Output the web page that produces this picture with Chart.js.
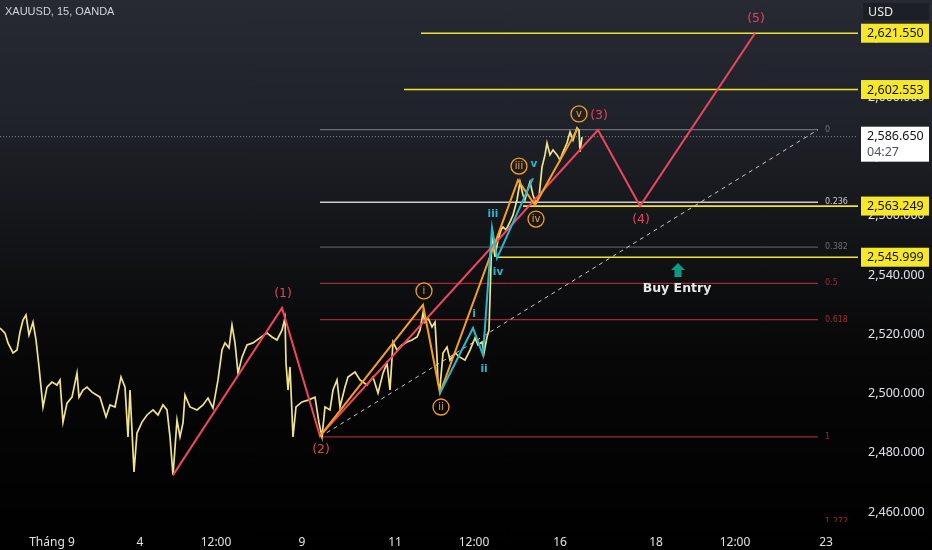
<!DOCTYPE html>
<html><head><meta charset="utf-8">
<script src="https://cdn.jsdelivr.net/npm/chart.js@4.4.1/dist/chart.umd.min.js"></script>
<style>
html,body{margin:0;padding:0;width:932px;height:550px;overflow:hidden;
background:linear-gradient(to bottom,#272a33 0%,#1f2229 22%,#121316 45%,#070707 65%,#000 100%);}
canvas{display:block;}
</style></head>
<body>
<canvas id="c" width="932" height="550"></canvas>
<script>
// ---- data ----
const xMin = 0, xMax = 858;
const xTickPos = [52,140,216,302,395,474,560,656,735,826];
const xTickLabels = ['Tháng 9','4','12:00','9','11','12:00','16','18','12:00','23'];
const yMin = 2456.7, yMax = 2632.75;

const priceX = [
0,5,8,13,17,20,23,26,29,33,
36,39,43,47,52,57,60,63,67,72,
77,79,83,87,92,100,106,110,115,121,
125,128,130,134,137,142,147,153,158,163,
167,170,173,177,180,183,185,190,197,203,
208,213,218,222,225,229,232,235,238,242,
247,253,260,267,272,277,282,285,286,288,
290,293,296,302,308,315,319,322,325,330,
333,337,340,345,348,355,360,367,373,378,
383,387,390,393,397,402,407,412,417,420,
423,425,428,432,435,437,438,440,443,447,
450,455,460,465,470,475,478,482,484,487,
489,491,492,494,495,498,501,503,506,510,
513,517,520,523,525,528,530,533,536,539,
542,545,547,550,553,557,560,563,567,570,
573,577,579,580,582];
const priceY = [
2522.1,2520.4,2517.1,2513.7,2514.7,2520.8,2524.8,2526.5,2519.8,2524.1,
2518.1,2509.0,2495.5,2502.2,2503.9,2502.9,2504.6,2490.4,2496.8,2498.8,
2506.9,2498.8,2501.2,2502.2,2500.5,2498.8,2492.1,2496.2,2495.5,2505.6,
2502.2,2485.4,2501.2,2473.6,2486.7,2490.4,2492.8,2494.5,2492.8,2496.2,
2494.5,2485.4,2472.5,2491.1,2485.4,2490.1,2499.5,2495.5,2494.5,2496.2,
2498.5,2495.1,2504.6,2514.7,2517.1,2515.4,2523.1,2517.1,2506.9,2512.3,
2516.4,2517.1,2518.8,2520.4,2519.1,2518.1,2521.4,2525.5,2510.3,2501.2,
2509.0,2485.4,2495.5,2497.2,2497.8,2498.8,2490.1,2485.4,2495.5,2494.5,
2501.2,2504.6,2495.5,2502.2,2505.6,2507.3,2504.6,2502.9,2505.6,2500.2,
2506.9,2510.3,2501.2,2517.4,2514.7,2516.4,2517.4,2518.1,2519.1,2521.4,
2527.2,2524.1,2525.5,2522.5,2524.1,2512.3,2503.6,2502.0,2513.7,2515.7,
2511.3,2513.7,2512.3,2511.3,2514.7,2518.8,2516.4,2517.4,2513.7,2519.1,
2521.4,2543.4,2555.9,2548.4,2546.1,2551.8,2555.2,2556.2,2555.2,2557.9,
2560.2,2565.3,2571.4,2567.0,2565.3,2569.3,2571.4,2567.0,2564.3,2566.3,
2576.4,2580.5,2584.5,2580.5,2582.2,2580.5,2578.8,2581.5,2584.5,2588.2,
2585.5,2589.6,2588.9,2581.5,2586.5];

const redX = [173,282,320,598,640,755];
const redY = [2472.5,2528.9,2485.7,2588.9,2563.25,2621.55];
const redLabels = ['','(1)','(2)','(3)','(4)','(5)'];

const orangeX = [320,423,440,518,535,578];
const orangeY = [2485.7,2529.9,2500.2,2572.0,2563.6,2589.6];
const orangeLabels = ['','i','ii','iii','iv','v'];

const cyanX = [440,473,483,492,497,533];
const cyanY = [2500.2,2522.1,2513.0,2555.9,2545.7,2572.7];
const cyanLabels = ['','i','ii','iii','iv','v'];

const labelSide = [0,-1,1,-1,1,-1]; // -1 above, 1 below

const yellowLevels = [2621.55,2602.553,2563.249,2545.999];
const yellowStart = [421,404,523,497];

const lastPrice = 2586.65;
const countdown = '04:27';

const fibTop = 2589.0, fibBottom = 2485.4;
const fibStart = 320, fibEnd = 818;
const fibRatios = [0,0.236,0.382,0.5,0.618,1];
const fibText = ['0','0.236','0.382','0.5','0.618','1'];
const fibColors = ['#6b6e78','#c9ccd3','#55585f','#9c2a3c','#a0283b','#9c2636'];
const fibExtraRatio = 1.272, fibExtraText = '1.272';

const buyX = 678, buyArrowY = 2541.7, buyTextY = 2535.3;

// ---- helpers ----
const pts = (xs, ys) => xs.map((v, i) => ({x: v, y: ys[i]}));
const fibVal = r => fibTop - r * (fibTop - fibBottom);
const fmt = v => v.toLocaleString('en-US', {minimumFractionDigits: 3, maximumFractionDigits: 3});

const datasets = [];
datasets.push({data: pts([xMin, xMax], [lastPrice, lastPrice]), borderColor: '#8a8d96', borderWidth: 1, borderDash: [1, 2], order: 20});
fibRatios.forEach((r, i) => {
  datasets.push({data: pts([fibStart, fibEnd], [fibVal(r), fibVal(r)]), borderColor: fibColors[i], borderWidth: r === 0.236 ? 1.6 : 1.2, order: 18});
});
datasets.push({data: pts([fibStart, fibEnd], [fibBottom, fibTop]), borderColor: '#c8c9cc', borderWidth: 1, borderDash: [4, 4], order: 16});
yellowLevels.forEach((v, i) => {
  datasets.push({data: pts([yellowStart[i], xMax], [v, v]), borderColor: '#f3e32b', borderWidth: 1.6, order: 15});
});
datasets.push({data: pts(priceX, priceY), borderColor: '#efe48c', borderWidth: 1.7, order: 10});
datasets.push({data: pts(redX, redY), borderColor: '#ee4560', borderWidth: 2, order: 3});
datasets.push({data: pts(orangeX, orangeY), borderColor: '#f5a020', borderWidth: 2, order: 2});
datasets.push({data: pts(cyanX, cyanY), borderColor: '#2bb7cb', borderWidth: 2, order: 1});

const overlay = {
  id: 'overlay',
  afterDatasetsDraw(chart) {
    const {ctx, chartArea: ca, scales: {x, y}} = chart;
    const px = v => x.getPixelForValue(v), py = v => y.getPixelForValue(v);
    ctx.save();
    ctx.beginPath(); ctx.rect(ca.left, ca.top, ca.width, ca.height); ctx.clip();
    // fib labels
    ctx.font = '8px "DejaVu Sans"'; ctx.textBaseline = 'middle'; ctx.textAlign = 'left';
    fibRatios.forEach((r, i) => { ctx.fillStyle = fibColors[i] === '#55585f' ? '#6b6e76' : fibColors[i]; ctx.fillText(fibText[i], px(fibEnd) + 7, py(fibVal(r))); });
    ctx.fillStyle = '#a0283b'; ctx.fillText(fibExtraText, px(fibEnd) + 7, py(fibVal(fibExtraRatio)) + 1);
    // red wave labels
    ctx.textAlign = 'center';
    ctx.font = '12.5px "DejaVu Sans"'; ctx.fillStyle = '#e2425e';
    redLabels.forEach((t, i) => { if (!t) return; ctx.fillText(t, px(redX[i]) + 1, py(redY[i]) + labelSide[i] * 14); });
    // cyan labels
    ctx.font = 'bold 10.5px "DejaVu Sans"'; ctx.fillStyle = '#2bb7cb';
    cyanLabels.forEach((t, i) => { if (!t) return; ctx.fillText(t, px(cyanX[i]) + 1, py(cyanY[i]) + labelSide[i] * 14); });
    // orange circled labels
    ctx.font = '10px "DejaVu Sans"';
    orangeLabels.forEach((t, i) => {
      if (!t) return;
      const cx = px(orangeX[i]) + 1, cy = py(orangeY[i]) + labelSide[i] * 14;
      ctx.beginPath(); ctx.arc(cx, cy, 8, 0, Math.PI * 2);
      ctx.strokeStyle = '#f5a020'; ctx.lineWidth = 1.3; ctx.stroke();
      ctx.fillStyle = '#f5a020'; ctx.fillText(t, cx, cy + 0.5);
    });
    // buy entry
    const bx = px(buyX), by = py(buyArrowY);
    ctx.fillStyle = '#0d9b80';
    ctx.beginPath();
    ctx.moveTo(bx - 7, by); ctx.lineTo(bx, by - 7); ctx.lineTo(bx + 7, by);
    ctx.lineTo(bx + 3.5, by); ctx.lineTo(bx + 3.5, by + 7); ctx.lineTo(bx - 3.5, by + 7); ctx.lineTo(bx - 3.5, by);
    ctx.closePath(); ctx.fill();
    ctx.font = 'bold 12.5px "DejaVu Sans"'; ctx.fillStyle = '#e8e8e8';
    ctx.fillText('Buy Entry', bx - 1, py(buyTextY));
    ctx.restore();

    // title
    ctx.save();
    ctx.font = '11px "Liberation Sans"'; ctx.fillStyle = '#d1d4dc'; ctx.textBaseline = 'middle'; ctx.textAlign = 'left';
    ctx.fillText('XAUUSD, 15, OANDA', 5, 12);
    // USD box
    const bl = ca.right + 5;
    ctx.fillStyle = '#1c1f26'; ctx.fillRect(bl, 3, 66, 17);
    ctx.font = '12.5px "Noto Sans"'; ctx.fillStyle = '#e8e9ec';
    ctx.fillText('USD', bl + 5, 12);
    // price boxes
    ctx.font = '12.5px "Noto Sans"';
    yellowLevels.forEach(v => {
      const yy = py(v);
      ctx.fillStyle = '#f5e72c'; ctx.fillRect(ca.right + 3, yy - 9.5, 68, 19);
      ctx.fillStyle = '#131313'; ctx.fillText(fmt(v), ca.right + 9, yy + 0.5);
    });
    const ly = py(lastPrice);
    ctx.fillStyle = '#ffffff'; ctx.fillRect(ca.right + 3, ly - 10, 68, 35);
    ctx.fillStyle = '#131313'; ctx.fillText(fmt(lastPrice), ca.right + 9, ly);
    ctx.fillStyle = '#50535e'; ctx.fillText(countdown, ca.right + 9, ly + 16);
    ctx.restore();
  }
};

new Chart(document.getElementById('c'), {
  type: 'line',
  data: {datasets},
  options: {
    responsive: false,
    animation: false,
    layout: {padding: 0},
    elements: {point: {radius: 0}, line: {tension: 0}},
    plugins: {legend: {display: false}, tooltip: {enabled: false}},
    scales: {
      x: {
        type: 'linear', min: xMin, max: xMax,
        grid: {display: false}, border: {display: false},
        afterBuildTicks: s => { s.ticks = xTickPos.map(v => ({value: v})); },
        afterFit: s => { s.height = 28; s.paddingLeft = 0; s.paddingRight = 0; },
        ticks: {
          autoSkip: false, maxRotation: 0, padding: 5, color: '#e2e3e6',
          font: {family: 'Noto Sans', size: 12},
          callback: (v, i) => xTickLabels[i]
        }
      },
      y: {
        type: 'linear', position: 'right', min: yMin, max: yMax,
        grid: {display: false, drawTicks: false}, border: {display: false},
        afterFit: s => { s.width = 74; s.paddingTop = 0; s.paddingBottom = 0; },
        ticks: {
          stepSize: 20, includeBounds: false, padding: 10, color: '#e0e2e8',
          font: {family: 'Noto Sans', size: 12.5},
          callback: v => fmt(v)
        }
      }
    }
  },
  plugins: [overlay]
});
</script>
</body></html>
